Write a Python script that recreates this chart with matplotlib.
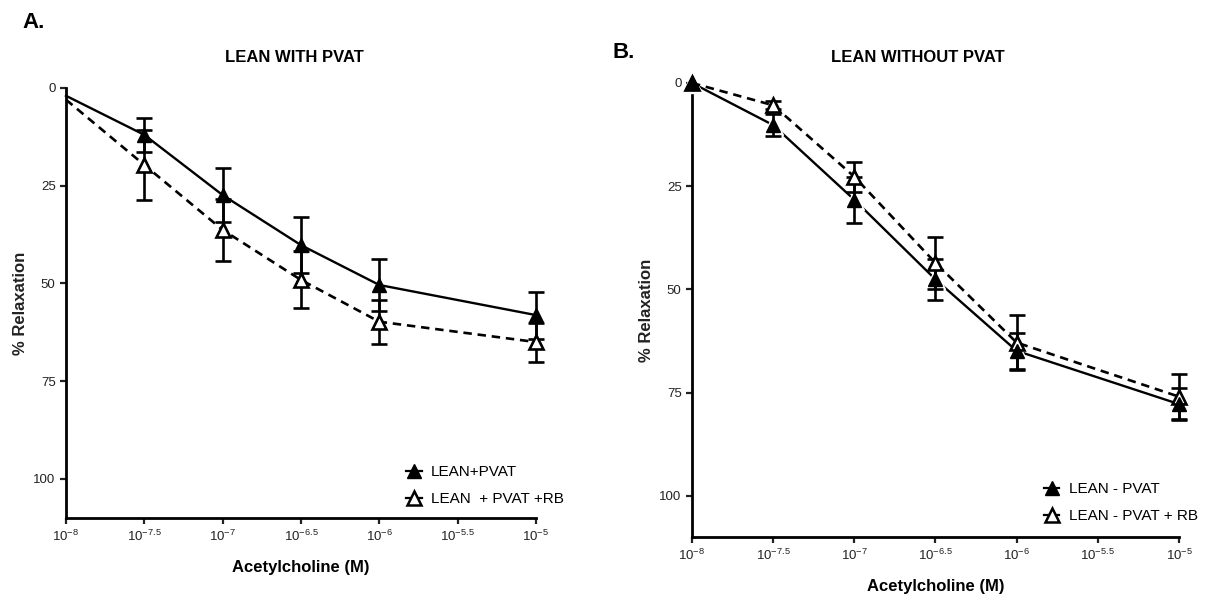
import numpy as np
import matplotlib
matplotlib.use("Agg")
import matplotlib.pyplot as plt
from matplotlib.lines import Line2D

plt.rcParams['font.family'] = ['Liberation Sans', 'DejaVu Sans']
plt.rcParams['mathtext.fontset'] = 'custom'
plt.rcParams['mathtext.rm'] = 'Liberation Sans'
plt.rcParams['mathtext.it'] = 'Liberation Sans'
plt.rcParams['mathtext.default'] = 'regular'

# log10 of acetylcholine concentration (M)
log_ach = [-8, -7.5, -7, -6.5, -6, -5]
x_ticks = [-8, -7.5, -7, -6.5, -6, -5.5, -5]
x_tick_labels = [r'$10^{-8}$', r'$10^{-7.5}$', r'$10^{-7}$', r'$10^{-6.5}$',
                 r'$10^{-6}$', r'$10^{-5.5}$', r'$10^{-5}$']
y_ticks = [0, 25, 50, 75, 100]

# panel A - lean with PVAT
lean_pvat = [2, 12, 27.4, 40.2, 50.4, 58.1]
lean_pvat_err = [0, 4.3, 6.9, 7.2, 6.6, 6.0]
lean_pvat_rb = [3, 19.7, 36.3, 49.1, 59.8, 65.0]
lean_pvat_rb_err = [0, 9.0, 8.0, 7.3, 5.6, 5.0]

# panel B - lean without PVAT
lean_nopvat = [0, 10.2, 28.3, 47.6, 64.9, 77.8]
lean_nopvat_err = [0, 2.7, 5.6, 5.0, 4.4, 3.8]
lean_nopvat_rb = [0, 5.4, 22.7, 43.6, 62.9, 76.0]
lean_nopvat_rb_err = [0, 1.0, 3.6, 6.4, 6.6, 5.5]

fig = plt.figure(figsize=(12.2, 6), dpi=100)
axA = fig.add_axes([0.0541, 0.1367, 0.3852, 0.7167])
axB = fig.add_axes([0.5672, 0.105, 0.3992, 0.7567])


def draw_panel(ax, y1, e1, y2, e2, lab1, lab2, first_marker, halo, leg_pos):
    x = np.array(log_ach)
    start = 0 if first_marker else 1
    # solid line for control
    ax.plot(x, y1, color='black', lw=1.7, zorder=2, clip_on=False)
    if halo:
        # gap around filled markers like GraphPad
        ax.plot(x, y1, ls='none', marker='^', ms=14, color='white',
                zorder=3, clip_on=False)
    ax.plot(x, y2, color='black', lw=1.9, ls=(0, (3.2, 2.2)), zorder=4,
            clip_on=False)
    for yy, ee in [(y2, e2), (y1, e1)]:
        eb = ax.errorbar(x[1:], yy[1:], yerr=ee[1:], fmt='none',
                         ecolor='black', elinewidth=1.9, capsize=6,
                         capthick=1.9, zorder=5)
        for art in eb.lines[1] + eb.lines[2]:
            art.set_clip_on(False)
    ax.plot(x[start:], y2[start:], ls='none', marker='^', ms=10, mfc='white',
            mec='black', mew=1.9, zorder=6, clip_on=False)
    ax.plot(x[start:], y1[start:], ls='none', marker='^', ms=10, mfc='black',
            mec='black', zorder=7, clip_on=False)

    ax.set_xlim(-8, -5)
    ax.set_ylim(110, 0)
    ax.set_xticks(x_ticks)
    ax.set_xticklabels(x_tick_labels)
    ax.set_yticks(y_ticks)
    for s in ['top', 'right']:
        ax.spines[s].set_visible(False)
    for s in ['left', 'bottom']:
        ax.spines[s].set_linewidth(2)
    ax.tick_params(width=1.6, length=4, labelsize=9.5, colors='#222222')
    ax.set_xlabel('Acetylcholine (M)', fontsize=12, fontweight='bold',
                  labelpad=12)
    ax.set_ylabel('% Relaxation', fontsize=12, fontweight='bold', labelpad=4,
                  color='#222222')

    h1 = Line2D([], [], color='black', lw=1.6, marker='^', ms=10,
                mfc='black', mec='black')
    h2 = Line2D([], [], color='black', lw=1.6, marker='^', ms=10,
                mfc='white', mec='black', mew=1.8)
    ax.legend([h1, h2], [lab1, lab2], loc='lower left', bbox_to_anchor=leg_pos,
              frameon=False, handlelength=1.0, handletextpad=0.6,
              labelspacing=0.85, fontsize=11)


draw_panel(axA, lean_pvat, lean_pvat_err, lean_pvat_rb, lean_pvat_rb_err,
           'LEAN+PVAT', 'LEAN  + PVAT +RB', False, False, (0.695, -0.005))
draw_panel(axB, lean_nopvat, lean_nopvat_err, lean_nopvat_rb,
           lean_nopvat_rb_err, 'LEAN - PVAT', 'LEAN - PVAT + RB', True, True,
           (0.695, 0.0))

narrow = ['Liberation Sans Narrow', 'Liberation Sans', 'DejaVu Sans']
fig.text(0.241, 0.905, 'LEAN WITH PVAT', ha='center', va='center',
         fontsize=12, fontweight='bold', family=narrow)
fig.text(0.752, 0.905, 'LEAN WITHOUT PVAT', ha='center', va='center',
         fontsize=12, fontweight='bold', family=narrow)
fig.text(0.018, 0.962, 'A.', ha='left', va='center', fontsize=16,
         fontweight='bold', family=narrow)
fig.text(0.502, 0.912, 'B.', ha='left', va='center', fontsize=16,
         fontweight='bold', family=narrow)

fig.savefig('out.png', dpi=100)
